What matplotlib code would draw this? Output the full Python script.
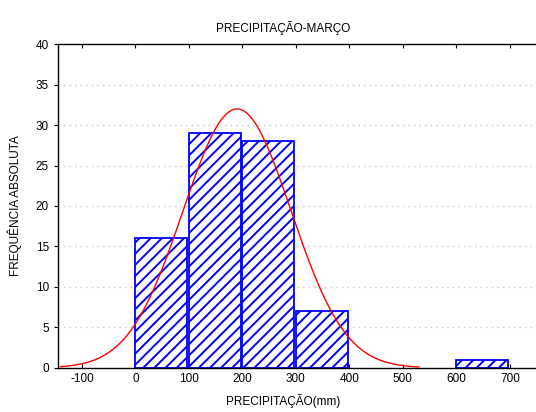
import numpy as np
import matplotlib
matplotlib.use('Agg')
import matplotlib.pyplot as plt

# ── Data ──────────────────────────────────────────────
bin_left   = [0, 100, 200, 300, 600]
bin_counts = [16, 29, 28, 7, 1]
bin_width  = 100
n_obs      = 81
mu, sigma  = 190, 101
x_ticks    = [-100, 0, 100, 200, 300, 400, 500, 600, 700]
y_ticks    = [0, 5, 10, 15, 20, 25, 30, 35, 40]

plt.rcParams['font.family'] = ['Liberation Sans', 'DejaVu Sans']
plt.rcParams['hatch.linewidth'] = 1.4
plt.rcParams['axes.unicode_minus'] = False

fig = plt.figure(figsize=(5.36, 4.12), dpi=100)
ax = fig.add_axes([0.108, 0.107, 0.895, 0.786])

# dotted horizontal grid
for y in y_ticks[1:-1]:
    ax.axhline(y, color='#c8c8c8', lw=1.0, ls=(0, (1, 3)), zorder=0)

ax.bar(bin_left, bin_counts, width=bin_width - 3, align='edge',
       color='white', edgecolor='#0000ff', hatch='///', lw=1.3, zorder=2)

xs = np.linspace(-140, 530, 300)
ys = n_obs * bin_width / (sigma * np.sqrt(2 * np.pi)) * np.exp(-0.5 * ((xs - mu) / sigma) ** 2)
ax.plot(xs, ys, color='#ff0000', lw=1.0, zorder=3)

ax.set_xlim(-145, 752)
ax.set_ylim(0, 40)
ax.set_xticks(x_ticks)
ax.set_yticks(y_ticks)
ax.tick_params(axis='both', labelsize=8.5, length=3)
ax.tick_params(axis='x', top=True, direction='in', length=3)
ax.spines['right'].set_visible(False)
for sp in ['left', 'bottom', 'top']:
    ax.spines[sp].set_linewidth(1.0)

# titles centred a bit left of the axes centre, as in the original
ax.set_title('PRECIPITAÇÃO-MARÇO', fontsize=8.5, pad=9, x=0.47)
ax.set_xlabel('PRECIPITAÇÃO(mm)', fontsize=8.5, labelpad=7, x=0.47)
ax.set_ylabel('FREQUÊNCIA ABSOLUTA', fontsize=8.5, labelpad=10)

fig.savefig('out.png', dpi=100)
